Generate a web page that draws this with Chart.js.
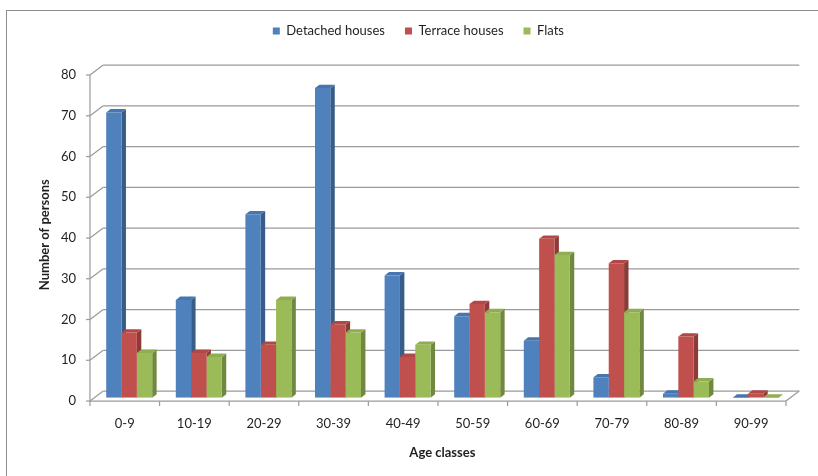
<!DOCTYPE html>
<html>
<head>
<meta charset="utf-8">
<script src="https://cdn.jsdelivr.net/npm/chart.js@4.4.1/dist/chart.umd.min.js"></script>
<style>
  html, body { margin: 0; padding: 0; background: #ffffff; }
  #wrap { width: 818px; height: 476px; }
</style>
</head>
<body>
<div id="wrap"><canvas id="chart" width="818" height="476"></canvas></div>
<script>
// Age classes along the x axis
const ageClasses = ['0-9', '10-19', '20-29', '30-39', '40-49', '50-59', '60-69', '70-79', '80-89', '90-99'];

// Number of persons per housing type
const detachedHouses = [70, 24, 45, 76, 30, 20, 14, 5, 1, 0];
const terraceHouses  = [16, 11, 13, 18, 10, 23, 39, 33, 15, 1];
const flats          = [11, 10, 24, 16, 13, 21, 35, 21, 4, 0];

// Value axis
const yMin = 0;
const yMax = 80;
const yStep = 10;

const seriesNames = ['Detached houses', 'Terrace houses', 'Flats'];
const xTitle = 'Age classes';
const yTitle = 'Number of persons';

// Face colours: front, side (shaded), top
const frontColors = ['#4f81bd', '#c0504d', '#9bbb59'];
const sideColors  = ['#385d8a', '#8c3b39', '#71893f'];
const topColors   = ['#4675af', '#b24845', '#8fad51'];

// Pseudo-3D box geometry (pixels): full floor depth, bars sit one third back
const DEPTH = { x: 13.3, y: -10 };
const FRONT = { x: -DEPTH.x / 3, y: -DEPTH.y / 3 };
const BACK = { x: DEPTH.x * 2 / 3, y: DEPTH.y * 2 / 3 };
const BAR_DEPTH = { x: DEPTH.x / 3, y: DEPTH.y / 3 };

// Horizontal nudge of the legend row
const LEGEND_SHIFT = 14;

const GRID_COLOR = '#9a9a9a';
const TEXT_COLOR = '#1f1f1f';
const FONT = 'Lato, "Open Sans", sans-serif';

function line(ctx, x1, y1, x2, y2) {
  ctx.beginPath();
  ctx.moveTo(x1, y1);
  ctx.lineTo(x2, y2);
  ctx.stroke();
}

function poly(ctx, pts) {
  ctx.beginPath();
  ctx.moveTo(pts[0][0], pts[0][1]);
  for (let i = 1; i < pts.length; i++) ctx.lineTo(pts[i][0], pts[i][1]);
  ctx.closePath();
  ctx.fill();
}

// Draws the walls, floor, tick marks and the side/top faces of each column
const depthFrame = {
  id: 'depthFrame',
  afterLayout(chart) {
    if (chart.legend) {
      chart.legend.left += LEGEND_SHIFT;
      chart.legend.right += LEGEND_SHIFT;
    }
  },
  beforeDraw(chart) {
    const ctx = chart.ctx;
    ctx.save();
    ctx.fillStyle = '#ffffff';
    ctx.fillRect(0, 0, chart.width, chart.height);
    ctx.strokeStyle = '#8d8d8d';
    ctx.lineWidth = 1;
    ctx.strokeRect(6.5, 10.5, chart.width + 20, chart.height + 20);
    ctx.restore();
  },
  beforeDatasetsDraw(chart) {
    const ctx = chart.ctx;
    const xs = chart.scales.x;
    const ys = chart.scales.y;
    const left = xs.left;
    const right = xs.right;
    const y0 = ys.getPixelForValue(yMin);
    const yTop = ys.getPixelForValue(yMax);

    ctx.save();
    ctx.strokeStyle = GRID_COLOR;
    ctx.lineWidth = 1.2;

    ys.ticks.forEach(t => {
      const py = ys.getPixelForValue(t.value);
      // back wall gridline
      line(ctx, left + BACK.x, py + BACK.y, right + BACK.x, py + BACK.y);
      // side wall gridline
      line(ctx, left + FRONT.x, py + FRONT.y, left + BACK.x, py + BACK.y);
      // tick mark
      line(ctx, left + FRONT.x - 4, py + FRONT.y, left + FRONT.x, py + FRONT.y);
    });

    // front edge of the side wall
    line(ctx, left + FRONT.x, y0 + FRONT.y, left + FRONT.x, yTop + FRONT.y);
    // floor: front edge and right edge
    line(ctx, left + FRONT.x, y0 + FRONT.y, right + FRONT.x, y0 + FRONT.y);
    line(ctx, right + FRONT.x, y0 + FRONT.y, right + BACK.x, y0 + BACK.y);

    // category separators
    const n = xs.ticks.length;
    const w = (right - left) / n;
    for (let i = 0; i <= n; i++) {
      const px = left + i * w + FRONT.x;
      line(ctx, px, y0 + FRONT.y, px, y0 + FRONT.y + 5);
    }

    // side and top faces, left series first
    chart.data.datasets.forEach((ds, di) => {
      const meta = chart.getDatasetMeta(di);
      meta.data.forEach(bar => {
        const p = bar.getProps(['x', 'y', 'base', 'width'], true);
        const l = p.x - p.width / 2;
        const r = p.x + p.width / 2;
        ctx.fillStyle = sideColors[di];
        poly(ctx, [[r, p.y], [r + BAR_DEPTH.x, p.y + BAR_DEPTH.y], [r + BAR_DEPTH.x, p.base + BAR_DEPTH.y], [r, p.base]]);
        ctx.fillStyle = topColors[di];
        poly(ctx, [[l, p.y], [r, p.y], [r + BAR_DEPTH.x, p.y + BAR_DEPTH.y], [l + BAR_DEPTH.x, p.y + BAR_DEPTH.y]]);
      });
    });
    ctx.restore();
  }
};

const series = [detachedHouses, terraceHouses, flats];

new Chart(document.getElementById('chart'), {
  type: 'bar',
  data: {
    labels: ageClasses,
    datasets: series.map((values, i) => ({
      label: seriesNames[i],
      data: values,
      backgroundColor: frontColors[i],
      borderWidth: 0,
      categoryPercentage: 0.661,
      barPercentage: 1
    }))
  },
  options: {
    responsive: false,
    devicePixelRatio: 1,
    animation: false,
    layout: { padding: { left: 18.4, right: 27.6, top: 4.5, bottom: 8.3 } },
    plugins: {
      legend: {
        position: 'top',
        weight: 3000,
        labels: {
          font: { family: FONT, size: 13 },
          color: TEXT_COLOR,
          boxWidth: 7,
          boxHeight: 7,
          padding: 20
        }
      },
      title: {
        display: true,
        text: '',
        font: { size: 10, lineHeight: 1.2 },
        padding: { top: 0, bottom: 12.2 }
      },
      tooltip: { enabled: false }
    },
    scales: {
      x: {
        grid: { display: false, drawTicks: false },
        border: { display: false },
        ticks: {
          font: { family: FONT, size: 13 },
          color: TEXT_COLOR,
          padding: 18.5,
          labelOffset: FRONT.x,
          maxRotation: 0,
          autoSkip: false
        },
        title: {
          display: true,
          text: xTitle,
          font: { family: FONT, size: 13, weight: 'bold' },
          color: TEXT_COLOR,
          padding: { top: 0, bottom: 6.9 }
        },
        afterFit(scale) { scale.height = 70; }
      },
      y: {
        min: yMin,
        max: yMax,
        grid: { display: false, drawTicks: false },
        border: { display: false },
        ticks: {
          stepSize: yStep,
          font: { family: FONT, size: 13 },
          color: TEXT_COLOR,
          padding: 18.4,
          labelOffset: FRONT.y
        },
        title: {
          display: true,
          text: yTitle,
          font: { family: FONT, size: 13, weight: 'bold' },
          color: TEXT_COLOR,
          padding: { top: 18.8, bottom: 0 }
        },
        afterFit(scale) { scale.width = 76; }
      }
    }
  },
  plugins: [depthFrame]
});
</script>
</body>
</html>
